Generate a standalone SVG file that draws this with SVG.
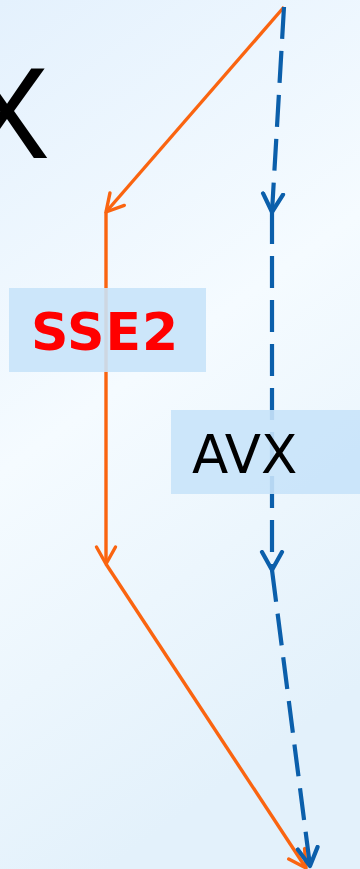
<svg xmlns="http://www.w3.org/2000/svg" width="360" height="869" viewBox="0 0 360 869">
<style>
.orange{fill:none;stroke:#FA6410;stroke-width:3.4;stroke-linejoin:round}
.blue{fill:none;stroke:#0B5FAB;stroke-width:4.2;stroke-dasharray:32 12}
.box{fill:#c8e3fa;fill-opacity:0.9}
.lbl{font-family:"DejaVu Sans","Liberation Sans",sans-serif}
</style>
<defs>
<linearGradient id="bg" x1="0" y1="0" x2="0.3" y2="1">
<stop offset="0" stop-color="#e4f1fd"/>
<stop offset="0.5" stop-color="#f5fbff"/>
<stop offset="1" stop-color="#e3f1fb"/>
</linearGradient>
<marker id="ao" markerUnits="userSpaceOnUse" markerWidth="40" markerHeight="40" viewBox="-20 -20 40 40" refX="0" refY="0" orient="auto">
<path d="M-17,-9.5 L0,0 L-17,9.5" fill="none" stroke="#FA6410" stroke-width="3.4" stroke-linecap="round" stroke-linejoin="round"/>
</marker>
<marker id="ab" markerUnits="userSpaceOnUse" markerWidth="40" markerHeight="40" viewBox="-20 -20 40 40" refX="0" refY="0" orient="auto">
<path d="M-18,-10 L0,0 L-18,10" fill="none" stroke="#0B5FAB" stroke-width="4.2" stroke-dasharray="none" stroke-linecap="round" stroke-linejoin="round"/>
</marker>
</defs>
<rect x="0" y="0" width="360" height="869" fill="url(#bg)"/>
<text x="50" y="158" text-anchor="end" font-family="Liberation Sans, Arial, sans-serif" font-size="130" fill="#000">X</text>
<g id="connectors">
<path class="orange" d="M284,7 L106,212" marker-end="url(#ao)"/>
<path class="orange" d="M106,212 L106,564" marker-end="url(#ao)"/>
<path class="orange" d="M106,564 L306,868" marker-end="url(#ao)"/>
<path class="blue" d="M284,7 L272,212" marker-end="url(#ab)"/>
<path class="blue" d="M272,212 L272,570" marker-end="url(#ab)"/>
<path class="blue" d="M272,570 L310,866" marker-end="url(#ab)"/>
</g>
<g id="sse2">
<rect class="box" x="9" y="288" width="197" height="84"/>
<text class="lbl" x="31" y="350" font-size="52" font-weight="bold" fill="#FF0000" letter-spacing="1">SSE2</text>
</g>
<g id="avx">
<rect class="box" x="171" y="410" width="189" height="84"/>
<text class="lbl" x="192" y="473" font-size="53" fill="#000">AVX</text>
</g>
</svg>
